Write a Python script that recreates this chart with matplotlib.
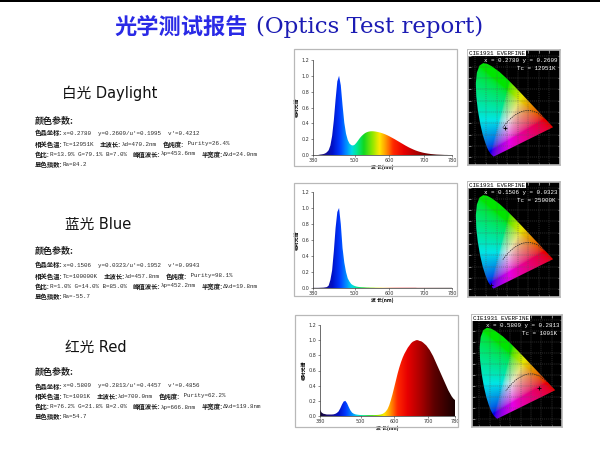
import numpy as np
import matplotlib
matplotlib.use('Agg')
import matplotlib.pyplot as plt
from matplotlib.colors import LinearSegmentedColormap
from matplotlib.patches import Rectangle, Polygon

# ---------------- data ----------------
wavelengths = np.arange(380, 781, 5)

white_spd = [0.0, 0.0, 0.0, 0.0, 0.005, 0.008, 0.012, 0.02, 0.035, 0.06,
             0.12, 0.24, 0.44, 0.70, 0.93, 1.00, 0.88, 0.63, 0.41, 0.27,
             0.19, 0.145, 0.125, 0.12, 0.13, 0.155, 0.185, 0.215, 0.24, 0.26,
             0.277, 0.288, 0.295, 0.299, 0.300, 0.299, 0.296, 0.292, 0.287, 0.281,
             0.274, 0.266, 0.257, 0.247, 0.236, 0.224, 0.212, 0.2, 0.187, 0.174,
             0.161, 0.148, 0.135, 0.122, 0.11, 0.098, 0.087, 0.077, 0.067, 0.058,
             0.05, 0.043, 0.037, 0.031, 0.026, 0.022, 0.018, 0.015, 0.012, 0.01,
             0.008, 0.006, 0.005, 0.004, 0.003, 0.002, 0.001, 0.001, 0.0, 0.0,
             0.0]

blue_spd = [0.002, 0.002, 0.002, 0.002, 0.003, 0.004, 0.005, 0.008, 0.012, 0.03,
            0.10, 0.22, 0.46, 0.75, 0.95, 1.00, 0.80, 0.50, 0.32, 0.20,
            0.12, 0.08, 0.05, 0.035, 0.025, 0.018, 0.014, 0.011, 0.009, 0.008,
            0.007, 0.006, 0.006, 0.005, 0.005, 0.005, 0.004, 0.004, 0.004, 0.004,
            0.003, 0.003, 0.003, 0.003, 0.003, 0.003, 0.003, 0.003, 0.003, 0.003,
            0.003, 0.003, 0.003, 0.003, 0.003, 0.003, 0.003, 0.003, 0.003, 0.003,
            0.002, 0.002, 0.002, 0.002, 0.002, 0.002, 0.002, 0.002, 0.002, 0.002,
            0.002, 0.002, 0.002, 0.002, 0.002, 0.002, 0.002, 0.002, 0.002, 0.002,
            0.002]

red_spd = [0.08, 0.045, 0.03, 0.025, 0.02, 0.02, 0.02, 0.02, 0.022, 0.028,
           0.04, 0.06, 0.1, 0.15, 0.19, 0.2, 0.17, 0.12, 0.075, 0.045,
           0.03, 0.022, 0.018, 0.015, 0.013, 0.012, 0.011, 0.011, 0.011, 0.011,
           0.011, 0.012, 0.012, 0.013, 0.014, 0.016, 0.02, 0.027, 0.04, 0.06,
           0.09, 0.14, 0.21, 0.29, 0.38, 0.47, 0.56, 0.64, 0.71, 0.77,
           0.82, 0.86, 0.9, 0.93, 0.96, 0.98, 0.99, 1.0, 1.0, 0.99,
           0.985, 0.97, 0.95, 0.93, 0.9, 0.87, 0.83, 0.79, 0.74, 0.69,
           0.64, 0.59, 0.54, 0.49, 0.44, 0.39, 0.34, 0.3, 0.26, 0.23,
           0.21]

# CIE 1931 spectral locus (x, y)
locus_x = [0.1741, 0.1738, 0.1733, 0.1726, 0.1714, 0.1689, 0.1644, 0.1566, 0.1440, 0.1241,
           0.1096, 0.0913, 0.0687, 0.0454, 0.0235, 0.0082, 0.0039, 0.0139, 0.0389, 0.0743,
           0.1142, 0.1547, 0.2296, 0.3016, 0.3731, 0.4441, 0.5125, 0.5752, 0.6270, 0.6658,
           0.6915, 0.7079, 0.7190, 0.7260, 0.7300, 0.7334, 0.7347]
locus_y = [0.0050, 0.0049, 0.0048, 0.0048, 0.0051, 0.0069, 0.0109, 0.0177, 0.0297, 0.0578,
           0.0868, 0.1327, 0.2007, 0.2950, 0.4127, 0.5384, 0.6548, 0.7502, 0.8120, 0.8338,
           0.8262, 0.8059, 0.7543, 0.6923, 0.6245, 0.5547, 0.4866, 0.4242, 0.3725, 0.3340,
           0.3083, 0.2920, 0.2809, 0.2740, 0.2700, 0.2666, 0.2653]
# Planckian locus (1000K ... 20000K)
planck_x = [0.6528, 0.5857, 0.5267, 0.4770, 0.4369, 0.3805, 0.3451, 0.3135, 0.2807, 0.2565]
planck_y = [0.3444, 0.3931, 0.4133, 0.4137, 0.4041, 0.3768, 0.3516, 0.3237, 0.2884, 0.2577]

titles = ["白光 Daylight", "蓝光 Blue", "红光 Red"]
chroma_xy = [(0.2780, 0.2609), (0.1506, 0.0323), (0.5809, 0.2813)]
cie_line1 = ["x = 0.2780 y = 0.2609", "x = 0.1506 y = 0.0323", "x = 0.5809 y = 0.2813"]
cie_line2 = ["Tc = 12951K", "Tc = 25000K", "Tc = 1001K"]

params = [
    [["色品坐标:", "x=0.2780  y=0.2609/u'=0.1995  v'=0.4212"],
     ["相关色温:", "Tc=12951K", "主波长:", "λd=470.2nm", "色纯度:", " Purity=26.4%"],
     ["色比:", "R=13.9% G=79.1% B=7.0%", "峰值波长:", "λp=453.6nm", "半宽度:", "Δλd=24.0nm"],
     ["显色指数:", "Ra=84.2"]],
    [["色品坐标:", "x=0.1506  y=0.0323/u'=0.1952  v'=0.0943"],
     ["相关色温:", "Tc=100000K", "主波长:", "λd=457.8nm", "色纯度:", " Purity=98.1%"],
     ["色比:", "R=1.0% G=14.0% B=85.0%", "峰值波长:", "λp=452.2nm", "半宽度:", "Δλd=19.8nm"],
     ["显色指数:", "Ra=-55.7"]],
    [["色品坐标:", "x=0.5809  y=0.2813/u'=0.4457  v'=0.4856"],
     ["相关色温:", "Tc=1001K", "主波长:", "λd=700.0nm", "色纯度:", " Purity=62.2%"],
     ["色比:", "R=76.2% G=21.8% B=2.0%", "峰值波长:", "λp=666.8nm", "半宽度:", "Δλd=119.8nm"],
     ["显色指数:", "Ra=54.7"]],
]
spectra = [white_spd, blue_spd, red_spd]
xticks = [380, 500, 600, 700, 780]
yticks = [0.0, 0.2, 0.4, 0.6, 0.8, 1.0, 1.2]

# ---------------- layout ----------------
W, H = 600, 450
fig = plt.figure(figsize=(6, 4.5), dpi=100)
fig.patch.set_facecolor('white')

def fr(x0, y0, x1, y1):
    return [x0 / W, 1 - y1 / H, (x1 - x0) / W, (y1 - y0) / H]

def fx(x):
    return x / W

def fy(y):
    return 1 - y / H

CJK = 'Noto Sans CJK SC'
fig.add_artist(Rectangle((0, fy(2)), 1, 2 / H, transform=fig.transFigure,
                         color='black', lw=0))

fig.text(fx(114), fy(27), "光学测试报告", family=[CJK], fontsize=16,
         weight='heavy', color='#2a2ae6', ha='left', va='center')
fig.text(fx(256), fy(27), "(Optics Test report)", family=['DejaVu Serif'],
         fontsize=16.5, color='#1c1cb4', ha='left', va='center')

spec_stops = [(380, '#150838'), (410, '#1b0f80'), (435, '#0010c8'), (455, '#0038ff'),
              (475, '#0090ff'), (490, '#00d8e8'), (505, '#00e890'), (525, '#10d820'),
              (550, '#90e800'), (570, '#ffe800'), (590, '#ff9000'), (610, '#ff2800'),
              (640, '#e80000'), (680, '#a80000'), (720, '#5c0000'), (780, '#1a0000')]
spec_cmap = LinearSegmentedColormap.from_list(
    'spec', [((w - 380) / 400, c) for w, c in spec_stops])

header_y = [93, 224, 347]
header_x = [62, 65, 65]
param_head_y = [121, 251, 373]
line_ys = [[133, 144, 154, 165], [265, 276, 286, 297], [386, 396, 407, 417]]

spec_axes = [(313, 60, 452, 155), (313, 192, 452, 288), (320, 325, 455, 416)]
spec_boxes = [(294, 49, 457, 166), (294, 183, 457, 296), (295, 315, 458, 427)]
cie_boxes = [(468, 50, 560, 165), (468, 182, 560, 297), (472, 315, 562, 427)]

renderer = fig.canvas.get_renderer()

for i in range(3):
    # left texts
    fig.text(fx(header_x[i]), fy(header_y[i]), titles[i],
             family=['DejaVu Sans', CJK], fontsize=10.5, color='#111111',
             ha='left', va='center')
    fig.text(fx(35), fy(param_head_y[i]), "颜色参数:", family=[CJK],
             fontsize=6.5, weight='bold', color='#222222', ha='left', va='center')
    for segs, yy in zip(params[i], line_ys[i]):
        xpos = 35.0
        for k, s in enumerate(segs):
            if k % 2 == 0:
                t = fig.text(fx(xpos), fy(yy), s, family=[CJK], fontsize=4.6,
                             weight='bold', color='#1a1a1a', ha='left', va='center')
            else:
                t = fig.text(fx(xpos), fy(yy), s, family=['Liberation Mono', 'DejaVu Sans'],
                             fontsize=4.2, color='#2a2a2a', ha='left', va='center')
            wpx = t.get_window_extent(renderer).width
            xpos += wpx + (0 if k % 2 == 0 else 6)

    # spectrum panel
    bx = spec_boxes[i]
    fig.add_artist(Rectangle((fx(bx[0]), fy(bx[3])), (bx[2] - bx[0]) / W, (bx[3] - bx[1]) / H,
                             transform=fig.transFigure, fill=False,
                             edgecolor='#b8b8b8', lw=0.9))
    ax = fig.add_axes(fr(*spec_axes[i]))
    poly = ax.fill_between(wavelengths, spectra[i], 0, facecolor='none', lw=0)
    grad = spec_cmap(np.linspace(0, 1, 400))[None, :, :]
    im = ax.imshow(grad, extent=(380, 780, 0, 1.2), aspect='auto', origin='lower',
                   interpolation='bilinear')
    im.set_clip_path(poly.get_paths()[0], transform=ax.transData)
    ax.set_xlim(380, 780)
    ax.set_ylim(0, 1.2)
    ax.set_xticks(xticks)
    ax.set_xticklabels([str(v) for v in xticks])
    ax.set_yticks(yticks)
    ax.set_yticklabels(["%.1f" % v for v in yticks])
    ax.tick_params(labelsize=3.5, length=1.5, width=0.4, pad=1, colors='#333333')
    for sp in ['top', 'right']:
        ax.spines[sp].set_visible(False)
    for sp in ['left', 'bottom']:
        ax.spines[sp].set_linewidth(0.5)
        ax.spines[sp].set_color('#333333')
    ax.set_ylabel("相对光谱", family=[CJK], fontsize=3.5, weight='bold', labelpad=1.5)
    ax.set_xlabel("波 长(nm)", family=[CJK], fontsize=3.5, weight='bold', labelpad=0.5)

    # CIE panel
    cx = cie_boxes[i]
    cax = fig.add_axes(fr(*cx))
    cax.set_facecolor('black')
    xmin, xmax, ymin, ymax = -0.07, 0.78, -0.07, 0.95
    gx = np.linspace(xmin, xmax, 260)
    gy = np.linspace(ymin, ymax, 320)
    GX, GY = np.meshgrid(gx, gy)
    GYc = np.clip(GY, 1e-3, None)
    XYZ = np.stack([GX / GYc, np.ones_like(GX), (1 - GX - GY) / GYc], -1)
    M = np.array([[3.2406, -1.5372, -0.4986],
                  [-0.9689, 1.8758, 0.0415],
                  [0.0557, -0.2040, 1.0570]])
    rgb = np.clip(XYZ @ M.T, 0, None)
    rgb = rgb / (rgb.max(-1, keepdims=True) + 1e-9)
    rgb = np.where(rgb <= 0.0031308, 12.92 * rgb, 1.055 * rgb ** (1 / 2.4) - 0.055)
    rgb = np.clip(rgb, 0, 1) * 0.9
    cim = cax.imshow(rgb, extent=(xmin, xmax, ymin, ymax), origin='lower',
                     aspect='auto', interpolation='bilinear', zorder=1)
    hp = Polygon(np.column_stack([locus_x, locus_y]), closed=True,
                 facecolor='none', edgecolor='none', transform=cax.transData)
    cax.add_patch(hp)
    cim.set_clip_path(hp)
    cax.set_xlim(xmin, xmax)
    cax.set_ylim(ymin, ymax)
    cax.set_xticks(np.arange(0, 0.81, 0.1))
    cax.set_yticks(np.arange(0, 0.91, 0.1))
    cax.grid(True, color='#5a5a5a', lw=0.35, ls=(0, (2, 2)), zorder=0.5)
    cax.tick_params(labelbottom=False, labelleft=False, direction='in',
                    length=1.8, width=0.4, colors='#dddddd', top=True, right=True)
    for sp in cax.spines.values():
        sp.set_color('#b8b8b8')
        sp.set_linewidth(1.2)
    cax.plot(planck_x, planck_y, color='#222222', lw=0.5, ls=(0, (2, 1.2)), zorder=3)
    cax.plot([chroma_xy[i][0]], [chroma_xy[i][1]], marker='+', color='black',
             ms=3, mew=0.6, zorder=4)
    cax.text(0.01, 0.995, "CIE1931 EVERFINE", transform=cax.transAxes,
             family=['Liberation Mono'], fontsize=4.2, color='black', ha='left',
             va='top', zorder=5,
             bbox=dict(boxstyle='square,pad=0.15', facecolor='white', edgecolor='none'))
    cax.text(0.97, 0.905, cie_line1[i], transform=cax.transAxes,
             family=['Liberation Mono'], fontsize=4.2, color='white', ha='right',
             va='center', zorder=5)
    cax.text(0.95, 0.835, cie_line2[i], transform=cax.transAxes,
             family=['Liberation Mono'], fontsize=4.2, color='white', ha='right',
             va='center', zorder=5)

fig.savefig('out.png', dpi=100, facecolor='white')
